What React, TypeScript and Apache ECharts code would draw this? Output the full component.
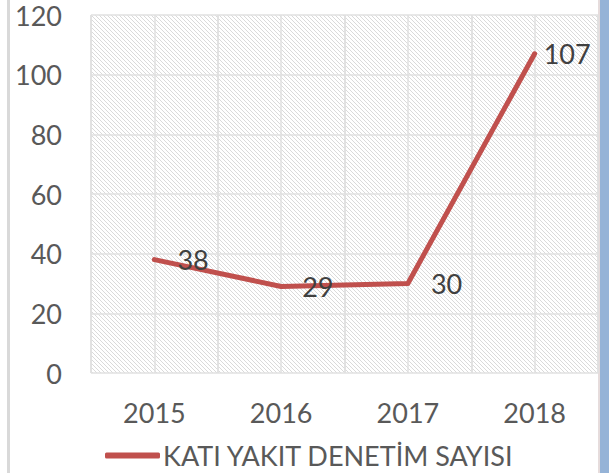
import React, { useEffect, useRef } from "react";
import * as echarts from "echarts";

const years = ["2015", "2016", "2017", "2018"];
const counts = [38, 29, 30, 107];
const labelGaps = [22, 20, 22, 8];
const seriesName = "KATI YAKIT DENETİM SAYISI";
const yTicks = { min: 0, max: 120, interval: 20 };
const halfBands = ["", "", "", "", "", "", "", ""];

function makeHatch(): string {
  const c = document.createElement("canvas");
  c.width = 8;
  c.height = 8;
  const ctx = c.getContext("2d")!;
  ctx.fillStyle = "#ffffff";
  ctx.fillRect(0, 0, 8, 8);
  ctx.fillStyle = "#dadada";
  for (let y = 0; y < 8; y++) {
    for (let x = 0; x < 8; x++) {
      if (((x - y) % 4 + 4) % 4 === 0) ctx.fillRect(x, y, 1, 1);
    }
  }
  return c.toDataURL();
}

export default function App() {
  const ref = useRef<HTMLDivElement>(null);
  useEffect(() => {
    if (!ref.current) return;
    const chart = echarts.init(ref.current, null, { renderer: "svg" });
    const font = "Lato";
    chart.setOption({
      animation: false,
      backgroundColor: "#ffffff",
      textStyle: { fontFamily: font },
      graphic: [
        { type: "rect", left: 7, top: 0, shape: { width: 3, height: 473 }, style: { fill: "#d9d9d9" } },
        { type: "rect", right: 0, top: 0, shape: { width: 9, height: 473 }, style: { fill: "#95b3d7" } },
        { type: "rect", right: 9, top: 0, shape: { width: 2, height: 473 }, style: { fill: "#e6dcdc" } },
      ],
      grid: {
        left: 91,
        right: 11,
        top: 15,
        bottom: 100,
        show: true,
        borderWidth: 0,
        backgroundColor: {
          image: makeHatch(),
          repeat: "repeat",
          imageWidth: 8,
          imageHeight: 8,
        },
      },
      legend: {
        left: 100,
        top: 437,
        itemWidth: 55,
        itemHeight: 6,
        itemGap: 10,
        textStyle: { fontFamily: font, fontSize: 27, color: "#595959", padding: [0, 0, 0, -2] },
        data: [{ name: seriesName, icon: "roundRect", itemStyle: { color: "#c0504d", opacity: 1 } }],
      },
      xAxis: [
        {
          type: "category",
          data: years,
          boundaryGap: true,
          axisLine: { show: false },
          axisTick: { show: false },
          axisLabel: { fontFamily: font, fontSize: 27, color: "#595959", margin: 28, lineHeight: 22 },
          splitLine: { show: true, interval: 0, lineStyle: { color: "#e0e0e0", width: 1.5 } },
        },
        {
          type: "category",
          data: halfBands,
          boundaryGap: true,
          position: "bottom",
          axisLine: { show: false },
          axisTick: { show: false },
          axisLabel: { show: false },
          splitLine: { show: true, interval: 0, lineStyle: { color: "#e0e0e0", width: 1.5 } },
        },
      ],
      yAxis: {
        type: "value",
        min: yTicks.min,
        max: yTicks.max,
        interval: yTicks.interval,
        axisLine: { show: false },
        axisTick: { show: false },
        axisLabel: { fontFamily: font, fontSize: 27, color: "#595959", margin: 29, lineHeight: 20 },
        splitLine: { show: true, lineStyle: { color: "#e0e0e0", width: 1.5 } },
      },
      series: [
        {
          name: seriesName,
          type: "line",
          xAxisIndex: 0,
          data: counts.map((v, i) => ({
            value: v,
            label: { show: true, distance: labelGaps[i] },
          })),
          symbol: "circle",
          symbolSize: 2,
          showSymbol: true,
          lineStyle: { color: "#c0504d", width: 5, cap: "round", join: "round" },
          itemStyle: { color: "#c0504d" },
          label: {
            show: true,
            position: "right",
            fontFamily: font,
            fontSize: 27,
            color: "#404040",
          },
        },
      ],
    });
    return () => chart.dispose();
  }, []);
  return (
    <div style={{ position: "absolute", left: 0, top: 0 }}>
      <div ref={ref} style={{ width: 609, height: 473 }} />
    </div>
  );
}
